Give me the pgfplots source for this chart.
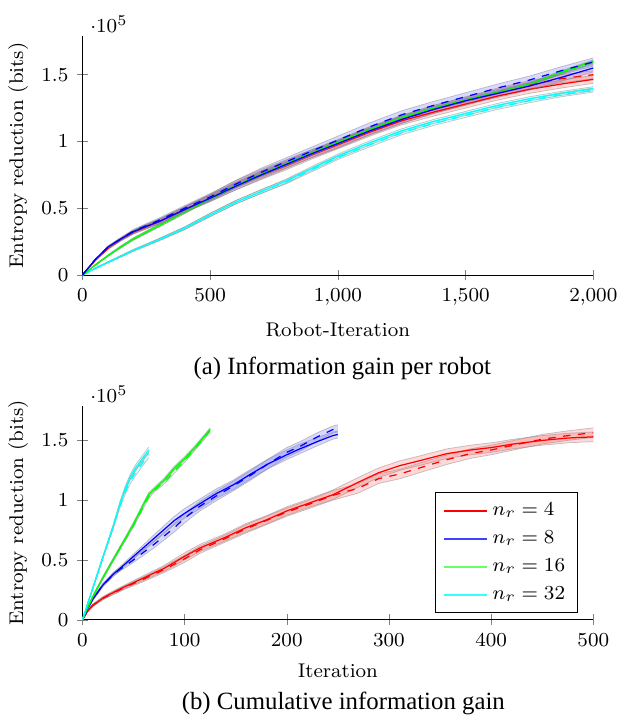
\documentclass[border=0pt]{standalone}
\usepackage{fontspec}
\usepackage{pgfplots}
\usepackage{pgfplotstable}
\pgfplotsset{compat=1.18}
\usepgfplotslibrary{fillbetween}
\newfontfamily\capfont{Liberation Serif}
\definecolor{cR}{RGB}{255,0,0}
\definecolor{cB}{RGB}{0,0,255}
\definecolor{cG}{RGB}{0,255,0}
\definecolor{cC}{RGB}{0,255,255}

% Top: information gain per robot (x = robot-iteration), y in 1e5 bits
\pgfplotstableread{
x m d e
0 0 0 0
50 0.11 0.11 0.004
100 0.20 0.20 0.007
150 0.265 0.265 0.01
200 0.32 0.32 0.012
250 0.36 0.36 0.015
300 0.40 0.40 0.017
400 0.49 0.49 0.02
500 0.575 0.58 0.025
600 0.665 0.68 0.028
700 0.745 0.76 0.03
800 0.82 0.835 0.03
900 0.90 0.91 0.03
1000 0.975 0.98 0.03
1125 1.07 1.08 0.03
1250 1.155 1.165 0.03
1375 1.22 1.24 0.03
1500 1.28 1.30 0.03
1625 1.34 1.37 0.03
1750 1.39 1.425 0.03
1875 1.43 1.47 0.03
2000 1.465 1.50 0.03
}\redA
\pgfplotstableread{
x m d e
0 0 0 0
50 0.115 0.115 0.004
100 0.21 0.21 0.007
150 0.27 0.27 0.01
200 0.325 0.33 0.012
250 0.365 0.37 0.015
300 0.40 0.41 0.017
400 0.49 0.50 0.02
500 0.575 0.585 0.025
600 0.665 0.68 0.028
700 0.75 0.77 0.03
800 0.83 0.85 0.03
900 0.91 0.93 0.03
1000 0.985 1.01 0.03
1125 1.08 1.11 0.03
1250 1.165 1.20 0.03
1375 1.24 1.27 0.03
1500 1.305 1.335 0.03
1625 1.36 1.40 0.03
1750 1.415 1.46 0.03
1875 1.48 1.53 0.03
2000 1.55 1.595 0.03
}\blueA
\pgfplotstableread{
x m d e
0 0 0 0
50 0.075 0.075 0.003
100 0.145 0.145 0.005
150 0.21 0.21 0.007
200 0.27 0.27 0.008
250 0.32 0.32 0.009
300 0.37 0.37 0.01
400 0.47 0.47 0.01
500 0.575 0.57 0.01
600 0.67 0.665 0.01
700 0.755 0.75 0.01
800 0.835 0.83 0.01
900 0.915 0.91 0.01
1000 0.995 0.99 0.01
1125 1.09 1.085 0.01
1250 1.18 1.175 0.01
1375 1.25 1.245 0.01
1500 1.31 1.305 0.01
1625 1.37 1.365 0.01
1750 1.43 1.425 0.01
1875 1.52 1.515 0.01
2000 1.60 1.595 0.01
}\greenA
\pgfplotstableread{
x m d e
0 0 0 0
50 0.05 0.05 0.003
100 0.095 0.095 0.004
150 0.14 0.14 0.005
200 0.185 0.185 0.006
250 0.225 0.225 0.007
300 0.265 0.265 0.008
400 0.35 0.35 0.01
500 0.45 0.45 0.012
600 0.545 0.545 0.013
700 0.625 0.625 0.014
800 0.705 0.70 0.015
900 0.80 0.79 0.015
1000 0.89 0.88 0.015
1125 0.99 0.975 0.015
1250 1.08 1.065 0.015
1375 1.15 1.135 0.015
1500 1.21 1.195 0.015
1625 1.27 1.255 0.015
1750 1.32 1.305 0.015
1875 1.36 1.35 0.015
2000 1.395 1.385 0.015
}\cyanA

% Bottom: cumulative information gain (x = iteration)
\pgfplotstableread{
x m d e
0 0 0 0
5 0.07 0.07 0.005
10 0.12 0.12 0.01
20 0.18 0.18 0.012
25 0.205 0.20 0.013
40 0.27 0.265 0.015
60 0.35 0.34 0.02
80 0.43 0.42 0.025
100 0.53 0.51 0.03
115 0.60 0.585 0.03
140 0.69 0.68 0.03
160 0.77 0.76 0.035
180 0.835 0.83 0.035
200 0.91 0.90 0.035
220 0.97 0.96 0.035
245 1.045 1.04 0.04
270 1.15 1.10 0.04
290 1.23 1.18 0.04
311 1.29 1.22 0.04
330 1.33 1.27 0.04
357 1.39 1.34 0.04
380 1.42 1.39 0.04
400 1.44 1.42 0.04
422 1.47 1.46 0.04
450 1.50 1.51 0.04
475 1.52 1.54 0.04
500 1.53 1.565 0.04
}\redB
\pgfplotstableread{
x m d e
0 0 0 0
5 0.09 0.09 0.005
10 0.17 0.17 0.01
20 0.29 0.29 0.012
30 0.38 0.375 0.015
35 0.415 0.41 0.015
50 0.53 0.50 0.02
70 0.68 0.63 0.03
90 0.83 0.77 0.035
100 0.89 0.85 0.04
115 0.97 0.95 0.04
130 1.05 1.03 0.04
148 1.13 1.12 0.04
165 1.22 1.21 0.04
181 1.30 1.30 0.04
200 1.38 1.40 0.04
213 1.43 1.45 0.04
230 1.49 1.53 0.035
245 1.54 1.59 0.03
250 1.55 1.60 0.03
}\blueB
\pgfplotstableread{
x m d e
0 0 0 0
5 0.10 0.10 0.005
10 0.19 0.19 0.008
20 0.35 0.35 0.01
30 0.50 0.50 0.012
40 0.65 0.645 0.012
50 0.80 0.79 0.015
60 0.97 0.95 0.015
65 1.05 1.03 0.015
70 1.09 1.08 0.015
80 1.17 1.15 0.015
90 1.27 1.24 0.015
100 1.35 1.33 0.015
110 1.44 1.43 0.015
120 1.54 1.53 0.015
125 1.59 1.585 0.015
}\greenB
\pgfplotstableread{
x m d e
0 0 0 0
5 0.13 0.13 0.005
10 0.26 0.26 0.008
20 0.52 0.52 0.01
30 0.78 0.77 0.012
37 0.98 0.96 0.015
42 1.10 1.07 0.02
47 1.20 1.16 0.02
52 1.27 1.23 0.025
58 1.34 1.30 0.025
65 1.42 1.38 0.025
}\cyanB

\newcommand{\band}[4]{%
  \addplot[draw=gray, draw opacity=0.45, line width=0.3pt, name path=u#1, forget plot]
    table[x=x, y expr=\thisrow{#4}+\thisrow{e}] {#2};
  \addplot[draw=gray, draw opacity=0.45, line width=0.3pt, name path=l#1, forget plot]
    table[x=x, y expr=\thisrow{#4}-\thisrow{e}] {#2};
  \addplot[fill=#3, fill opacity=0.15, draw=none, forget plot] fill between[of=u#1 and l#1];
}
\newcommand{\series}[3]{% id, table, color
  \band{#1m}{#2}{#3}{m}
  \band{#1d}{#2}{#3}{d}
  \addplot[color=#3, line width=0.5pt, forget plot] table[x=x, y=m] {#2};
  \addplot[color=#3, dashed, line width=0.5pt, forget plot] table[x=x, y=d] {#2};
}

\pgfplotsset{
  myaxis/.style={
    scale only axis,
    width=206pt,
    axis lines=left,
    axis line style={-},
    ymin=0, ymax=1.79,
    ytick={0,0.5,1,1.5},
    scaled y ticks=manual:{$\cdot 10^{5}$}{\pgfmathparse{##1}},
    every y tick scale label/.append style={yshift=-1.5pt},
    ylabel={Entropy reduction (bits)},
    ylabel shift=-1.5pt,
    font=\footnotesize,
    legend style={font=\footnotesize},
  }
}

\begin{document}
\begin{tikzpicture}
\begin{axis}[myaxis,
  height=96.4pt,
  xmin=0, xmax=2000,
  xtick={0,500,1000,1500,2000},
  xlabel={Robot-Iteration},
]
\series{ra}{\redA}{cR}
\series{ca}{\cyanA}{cC}
\series{ga}{\greenA}{cG}
\series{ba}{\blueA}{cB}
\end{axis}
\node[font=\capfont, inner sep=0pt] at (104.8pt,-37.5pt) {(a) Information gain per robot};

\begin{axis}[myaxis,
  at={(0pt,-139pt)},
  height=86.3pt,
  xmin=0, xmax=500,
  xtick={0,100,200,300,400,500},
  xlabel={Iteration},
  legend style={at={(0.97,0.03)}, anchor=south east, row sep=0.6pt},
  legend cell align=left,
]
\addlegendimage{color=cR, line width=0.5pt}
\addlegendentry{$n_r = 4$}
\addlegendimage{color=cB!75!white, line width=0.8pt}
\addlegendentry{$n_r = 8$}
\addlegendimage{color=cG!60!white, line width=1pt}
\addlegendentry{$n_r = 16$}
\addlegendimage{color=cC!80!white, line width=0.8pt}
\addlegendentry{$n_r = 32$}
\series{rb}{\redB}{cR}
\series{bb}{\blueB}{cB}
\series{gb}{\greenB}{cG}
\series{cb}{\cyanB}{cC}
\end{axis}
\node[font=\capfont, inner sep=0pt] at (105.2pt,-172.6pt) {(b) Cumulative information gain};
\path (-33.1pt,-177.4pt) rectangle (216.9pt,110.9pt);
\end{tikzpicture}
\end{document}
